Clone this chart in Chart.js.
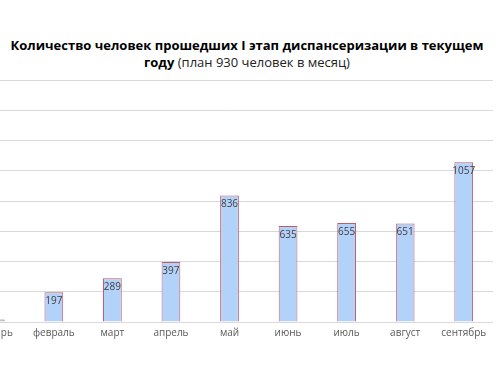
<!DOCTYPE html>
<html>
<head>
<meta charset="utf-8">
<script src="https://cdn.jsdelivr.net/npm/chart.js@4.4.0/dist/chart.umd.min.js"></script>
<style>
    body { margin: 0; width: 500px; height: 375px; overflow: hidden; background: #fff; position: relative; }
    #title {
        position: absolute; left: -23px; top: 37px; width: 540px;
        text-align: center; font-family: 'Open Sans', sans-serif; font-size: 13px;
        line-height: 17px; color: #000; white-space: nowrap;
    }
    #title b { font-weight: 700; }
    #title span { font-weight: 400; color: #222; }
    #chart-box { position: absolute; left: -34px; top: 75px; width: 527px; height: 290px; }
</style>
</head>
<body>
<div id="title"><b>Количество человек прошедших I этап диспансеризации в текущем</b><br><b>году</b> <span>(план 930 человек в месяц)</span></div>
<div id="chart-box"><canvas id="bar-chart"></canvas></div>
<script>
const months = ['январь', 'февраль', 'март', 'апрель', 'май', 'июнь', 'июль', 'август', 'сентябрь'];
const peopleCount = [17, 197, 289, 397, 836, 635, 655, 651, 1057];
const yMax = 1600;
const yStep = 200;

// draws the numbers inside the top of each bar
const barLabels = {
    id: 'barLabels',
    afterDatasetsDraw(chart) {
        const ctx = chart.ctx;
        const meta = chart.getDatasetMeta(0);
        ctx.save();
        ctx.font = '10px "Open Sans", sans-serif';
        ctx.fillStyle = '#404040';
        ctx.textAlign = 'center';
        ctx.textBaseline = 'middle';
        meta.data.forEach((bar, i) => {
            if (peopleCount[i] < 100) return;
            ctx.fillText(peopleCount[i], bar.x, bar.y + 9);
        });
        ctx.restore();
    }
};

const ctx = document.getElementById('bar-chart').getContext('2d');
const barChart = new Chart(ctx, {
    type: 'bar',
    data: {
        labels: months,
        datasets: [{
            label: 'Количество человек',
            data: peopleCount,
            backgroundColor: '#b3d2fa',
            borderColor: '#c45a66',
            borderWidth: 1,
            categoryPercentage: 1,
            barPercentage: 0.32
        }]
    },
    options: {
        responsive: true,
        maintainAspectRatio: false,
        animation: false,
        layout: { padding: { top: 5, left: 0, right: 0, bottom: 0 } },
        plugins: {
            legend: { display: false },
            tooltip: { enabled: false }
        },
        scales: {
            y: {
                min: 0,
                max: yMax,
                ticks: { display: false, stepSize: yStep },
                border: { display: false },
                grid: { color: '#d9d9d9', drawTicks: false },
                afterFit(scale) { scale.width = 0; }
            },
            x: {
                ticks: {
                    color: '#595959',
                    font: { family: 'Open Sans', size: 10 },
                    padding: 5,
                    maxRotation: 0
                },
                border: { display: false },
                grid: { display: false, drawTicks: false },
                afterFit(scale) { scale.height = 43; }
            }
        }
    },
    plugins: [barLabels]
});
</script>
</body>
</html>
